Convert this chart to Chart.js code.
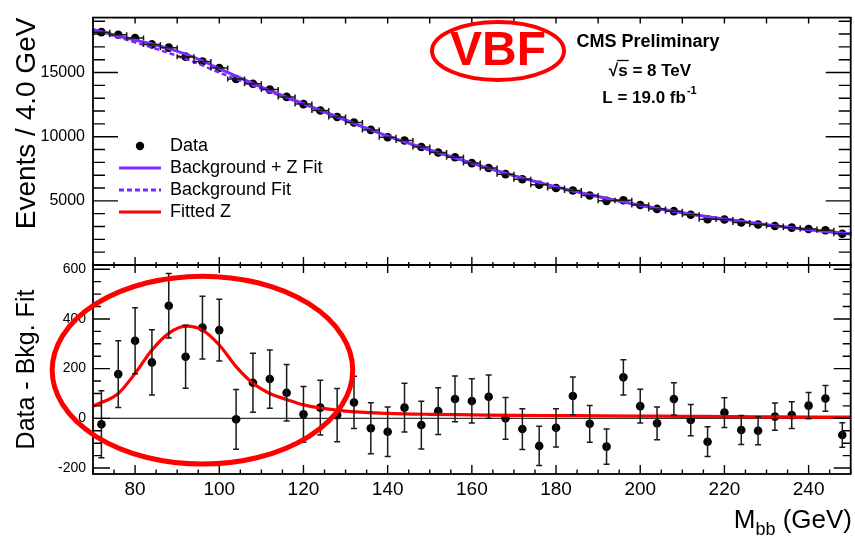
<!DOCTYPE html>
<html>
<head>
<meta charset="utf-8">
<script src="https://cdn.jsdelivr.net/npm/chart.js@4.4.0/dist/chart.umd.min.js"></script>
<style>
body { margin: 0; background: #fff; }
#wrap { position: relative; width: 855px; height: 537px; }
#wrap canvas { position: absolute; left: 0; top: 0; }
</style>
</head>
<body>
<div id="wrap">
	<canvas id="bottom" width="855" height="537"></canvas>
	<canvas id="top" width="855" height="537"></canvas>
</div>
<script>
// bin centres (GeV), bin width 4 GeV
var binWidth = 4;
var massBins = [72, 76, 80, 84, 88, 92, 96, 100, 104, 108, 112, 116, 120, 124, 128, 132, 136, 140, 144, 148,
	152, 156, 160, 164, 168, 172, 176, 180, 184, 188, 192, 196, 200, 204, 208, 212, 216, 220, 224, 228,
	232, 236, 240, 244, 248];
var eventCounts = [18145, 17940, 17690, 17190, 16940, 16235, 15860, 15355, 14500, 14125, 13670, 13100, 12540, 12035, 11530, 11105, 10530, 9950, 9700, 9195,
	8770, 8395, 7940, 7560, 7080, 6680, 6250, 6000, 5800, 5420, 5000, 5045, 4670, 4370, 4195, 3915, 3565, 3540, 3310, 3160,
	3040, 2910, 2810, 2710, 2435];
var residuals = [-24, 178, 312, 225, 453, 248, 365, 355, -4, 143, 158, 103, 16, 43, 13, 64, -40, -54, 43, -27,
	29, 78, 70, 87, 0, -43, -111, -38, 90, -22, -114, 165, 49, -20, 78, -7, -94, 23, -47, -50,
	7, 13, 51, 80, -67];
var residualErrors = [135, 134, 133, 131, 130, 127, 126, 124, 120, 119, 117, 114, 112, 110, 107, 105, 103, 100, 98, 96,
	94, 92, 89, 87, 84, 82, 79, 77, 76, 74, 71, 71, 68, 66, 65, 63, 60, 60, 58, 56,
	55, 54, 53, 52, 49];

// fit curves
var fitX = [70, 76, 80, 84, 88, 92, 96, 100, 104, 108, 112, 116, 120, 130, 140, 150, 160, 170, 180, 190, 200, 210, 220, 230, 240, 250];
var sbFit = [18350, 17850, 17530, 17225, 16860, 16430, 15905, 15295, 14710, 14140, 13600, 13086, 12574, 11300, 10050, 8966, 7934, 6962, 6091, 5340, 4659, 4078, 3577, 3136, 2756, 2425];
var bkgFit = [18300, 17750, 17350, 16950, 16520, 16060, 15550, 15000, 14500, 14000, 13500, 13010, 12520, 11270, 10030, 8950, 7920, 6950, 6080, 5330, 4650, 4070, 3570, 3130, 2750, 2420];
var zFit = [49, 100, 181, 275, 342, 371, 355, 295, 208, 141, 100, 76, 54, 29, 20, 16, 14, 12, 11, 10, 9, 8, 7, 6, 5, 5];

// tick labels
var xTicks = [80, 100, 120, 140, 160, 180, 200, 220, 240];
var yTicksTop = [5000, 10000, 15000];
var yTicksBottom = [-200, 0, 200, 400, 600];

var FONT = "'Liberation Sans', Arial, Helvetica, sans-serif";
var PURPLE = '#7a2bff';
var RED = '#ff0000';
Chart.defaults.font.family = FONT;
Chart.defaults.color = '#000';

function pts(xs, ys) {
	return xs.map(function(x, i) { return {x: x, y: ys[i]}; });
}
function plain(v) { return String(v); }

// frame and inward ROOT-style tick marks
var frameTicks = {
	id: 'frameTicks',
	afterDraw: function(chart, args, o) {
		var a = chart.chartArea, ctx = chart.ctx, xs = chart.scales.x, ys = chart.scales.y;
		ctx.save();
		ctx.strokeStyle = '#000';
		ctx.lineWidth = 1.8;
		ctx.strokeRect(a.left, a.top, a.right - a.left, a.bottom - a.top);
		ctx.lineWidth = 1.4;
		ctx.beginPath();
		var v, p, len;
		for (v = o.xTop.from; v <= xs.max; v += o.xTop.step) {
			p = xs.getPixelForValue(v);
			len = v % 20 === 0 ? o.xTop.major : o.xTop.minor;
			ctx.moveTo(p, a.top); ctx.lineTo(p, a.top + len);
		}
		for (v = o.xBot.from; v <= xs.max; v += o.xBot.step) {
			p = xs.getPixelForValue(v);
			len = v % 20 === 0 ? o.xBot.major : o.xBot.minor;
			ctx.moveTo(p, a.bottom); ctx.lineTo(p, a.bottom - len);
		}
		for (v = o.y.from; v <= ys.max; v += o.y.step) {
			p = ys.getPixelForValue(v);
			len = v % o.y.majorEvery === 0 ? o.y.major : o.y.minor;
			ctx.moveTo(a.left, p); ctx.lineTo(a.left + len, p);
			ctx.moveTo(a.right, p); ctx.lineTo(a.right - len, p);
		}
		ctx.stroke();
		ctx.restore();
	}
};

var errorBars = {
	id: 'errorBars',
	afterDatasetsDraw: function(chart, args, o) {
		var xs = chart.scales.x, ys = chart.scales.y, ctx = chart.ctx;
		ctx.save();
		ctx.strokeStyle = '#1a1a1a';
		ctx.lineWidth = 1.5;
		ctx.beginPath();
		massBins.forEach(function(m, i) {
			var px = xs.getPixelForValue(m);
			if (o.mode === 'x') {
				var py = ys.getPixelForValue(eventCounts[i]);
				var x0 = xs.getPixelForValue(m - binWidth / 2), x1 = xs.getPixelForValue(m + binWidth / 2);
				ctx.moveTo(x0, py); ctx.lineTo(x1, py);
				ctx.moveTo(x0, py - 2.5); ctx.lineTo(x0, py + 2.5);
				ctx.moveTo(x1, py - 2.5); ctx.lineTo(x1, py + 2.5);
			} else {
				var y0 = ys.getPixelForValue(residuals[i] - residualErrors[i]);
				var y1 = ys.getPixelForValue(residuals[i] + residualErrors[i]);
				ctx.moveTo(px, y0); ctx.lineTo(px, y1);
				ctx.moveTo(px - 3, y0); ctx.lineTo(px + 3, y0);
				ctx.moveTo(px - 3, y1); ctx.lineTo(px + 3, y1);
			}
		});
		ctx.stroke();
		ctx.restore();
	}
};

// legend, CMS label and the hand drawn VBF mark
var topDecor = {
	id: 'topDecor',
	afterDraw: function(chart) {
		var ctx = chart.ctx;
		ctx.save();
		// VBF
		ctx.strokeStyle = RED; ctx.lineWidth = 4;
		ctx.beginPath(); ctx.ellipse(498, 51, 66, 29, 0, 0, Math.PI * 2); ctx.stroke();
		ctx.fillStyle = RED; ctx.textAlign = 'center'; ctx.textBaseline = 'middle';
		ctx.font = 'bold 48px ' + FONT;
		ctx.fillText('VBF', 498, 52);
		// CMS text
		ctx.fillStyle = '#000';
		ctx.font = 'bold 18px ' + FONT;
		ctx.fillText('CMS Preliminary', 648, 42);
		ctx.font = 'bold 17px ' + FONT;
		var s = '\u221As = 8 TeV', w = ctx.measureText(s).width, x0 = 650 - w / 2;
		ctx.textAlign = 'left';
		ctx.fillText(s, x0, 71);
		var wr = ctx.measureText('\u221A').width, ws = ctx.measureText('s').width;
		ctx.lineWidth = 1.3; ctx.strokeStyle = '#000';
		ctx.beginPath(); ctx.moveTo(x0 + wr - 1, 60.5); ctx.lineTo(x0 + wr + ws + 1, 60.5); ctx.stroke();
		var lt = 'L = 19.0 fb', wl = ctx.measureText(lt).width;
		ctx.font = 'bold 11px ' + FONT;
		var wsup = ctx.measureText('-1').width;
		var lx = 649 - (wl + wsup) / 2;
		ctx.font = 'bold 17px ' + FONT;
		ctx.fillText(lt, lx, 98);
		ctx.font = 'bold 11px ' + FONT;
		ctx.fillText('-1', lx + wl + 1, 91);
		// legend
		ctx.font = '18px ' + FONT;
		ctx.fillStyle = '#000';
		ctx.beginPath(); ctx.arc(140, 146, 4.2, 0, Math.PI * 2); ctx.fill();
		ctx.fillText('Data', 170, 146);
		var rows = [
			{y: 168, color: PURPLE, dash: [], text: 'Background + Z Fit'},
			{y: 190, color: PURPLE, dash: [5, 3], text: 'Background Fit'},
			{y: 212, color: RED, dash: [], text: 'Fitted Z'}
		];
		rows.forEach(function(r) {
			ctx.strokeStyle = r.color; ctx.lineWidth = 3; ctx.setLineDash(r.dash);
			ctx.beginPath(); ctx.moveTo(119, r.y); ctx.lineTo(161, r.y); ctx.stroke();
			ctx.setLineDash([]);
			ctx.fillText(r.text, 170, r.y);
		});
		ctx.restore();
	}
};

var bottomDecor = {
	id: 'bottomDecor',
	afterDraw: function(chart) {
		var ctx = chart.ctx, xs = chart.scales.x, ys = chart.scales.y;
		ctx.save();
		// hand drawn ellipse round the Z peak
		var cx = xs.getPixelForValue(96), cy = ys.getPixelForValue(194);
		var rx = xs.getPixelForValue(96 + 35.7) - cx, ry = cy - ys.getPixelForValue(194 + 378);
		ctx.strokeStyle = RED; ctx.lineWidth = 5;
		ctx.beginPath(); ctx.ellipse(cx, cy, rx, ry, 0, 0, Math.PI * 2); ctx.stroke();
		// x axis title with subscript
		ctx.fillStyle = '#000';
		ctx.textBaseline = 'alphabetic';
		ctx.textAlign = 'left';
		ctx.font = '26px ' + FONT;
		var wg = ctx.measureText(' (GeV)').width, wm = ctx.measureText('M').width;
		ctx.font = '18px ' + FONT;
		var wb = ctx.measureText('bb').width;
		var x = 852 - wg - wb - wm;
		ctx.font = '26px ' + FONT;
		ctx.fillText('M', x, 528);
		ctx.font = '18px ' + FONT;
		ctx.fillText('bb', x + wm, 535);
		ctx.font = '26px ' + FONT;
		ctx.fillText(' (GeV)', x + wm + wb, 528);
		ctx.restore();
	}
};

var topChart = new Chart(document.getElementById('top'), {
	type: 'scatter',
	data: {
		datasets: [
			{label: 'Background + Z Fit', type: 'line', data: pts(fitX, sbFit), borderColor: PURPLE, borderWidth: 3,
				pointRadius: 0, cubicInterpolationMode: 'monotone', order: 0},
			{label: 'Background Fit', type: 'line', data: pts(fitX, bkgFit), borderColor: PURPLE, borderWidth: 2.5,
				borderDash: [5, 3], pointRadius: 0, cubicInterpolationMode: 'monotone', order: 1},
			{label: 'Data', data: pts(massBins, eventCounts), pointRadius: 4.3, backgroundColor: '#000',
				borderWidth: 0, order: 2}
		]
	},
	options: {
		responsive: false,
		animation: false,
		events: [],
		layout: {padding: {top: 9, right: 1, bottom: 272, left: 0}},
		plugins: {
			legend: {display: false},
			tooltip: {enabled: false},
			errorBars: {mode: 'x'},
			frameTicks: {
				xTop: {from: 70, step: 10, major: 6, minor: 6},
				xBot: {from: 70, step: 5, major: 8, minor: 3},
				y: {from: 0, step: 1000, majorEvery: 5000, major: 25, minor: 12}
			}
		},
		scales: {
			x: {type: 'linear', min: 70, max: 250, display: false},
			y: {
				min: 0, max: 19280,
				afterFit: function(s) { s.width = 93; },
				afterBuildTicks: function(s) { s.ticks = yTicksTop.map(function(v) { return {value: v}; }); },
				grid: {display: false, drawTicks: false},
				border: {display: false},
				ticks: {padding: 8, font: {size: 16}, callback: plain},
				title: {display: true, text: 'Events / 4.0 GeV', align: 'end', font: {size: 28}, padding: {top: 10}}
			}
		}
	},
	plugins: [errorBars, frameTicks, topDecor]
});

var bottomChart = new Chart(document.getElementById('bottom'), {
	type: 'scatter',
	data: {
		datasets: [
			{label: 'Fitted Z', type: 'line', data: pts(fitX, zFit), borderColor: RED, borderWidth: 3.2,
				pointRadius: 0, cubicInterpolationMode: 'monotone', order: 0},
			{label: 'zero', type: 'line', data: pts([70, 250], [0, 0]), borderColor: '#333', borderWidth: 1.2,
				pointRadius: 0, order: 3},
			{label: 'Data', data: pts(massBins, residuals), pointRadius: 4.3, backgroundColor: '#000',
				borderWidth: 0, order: 1}
		]
	},
	options: {
		responsive: false,
		animation: false,
		events: [],
		layout: {padding: {top: 265, right: 1, bottom: 0, left: 0}},
		plugins: {
			legend: {display: false},
			tooltip: {enabled: false},
			errorBars: {mode: 'y'},
			frameTicks: {
				xTop: {from: 70, step: 5, major: 8, minor: 3},
				xBot: {from: 70, step: 5, major: 9, minor: 4.5},
				y: {from: -200, step: 50, majorEvery: 200, major: 17, minor: 8}
			}
		},
		scales: {
			x: {
				type: 'linear', min: 70, max: 250,
				afterFit: function(s) { s.height = 63; },
				afterBuildTicks: function(s) { s.ticks = xTicks.map(function(v) { return {value: v}; }); },
				grid: {display: false, drawTicks: false},
				border: {display: false},
				ticks: {padding: 4, font: {size: 19}, maxRotation: 0, autoSkip: false, callback: plain}
			},
			y: {
				min: -224, max: 617,
				afterFit: function(s) { s.width = 93; },
				afterBuildTicks: function(s) { s.ticks = yTicksBottom.map(function(v) { return {value: v}; }); },
				grid: {display: false, drawTicks: false},
				border: {display: false},
				ticks: {padding: 7, font: {size: 14}, callback: plain},
				title: {display: true, text: 'Data - Bkg. Fit', align: 'center', font: {size: 25}, padding: {top: 12}}
			}
		}
	},
	plugins: [errorBars, frameTicks, bottomDecor]
});
</script>
</body>
</html>
